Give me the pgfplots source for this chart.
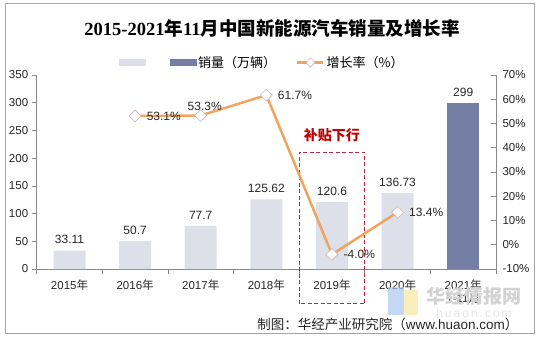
\documentclass[border=0pt]{standalone}
\usepackage{fontspec}
\setmainfont{Liberation Sans}
\newfontfamily\cjk{Noto Sans CJK SC}
\newfontfamily\serifb{Liberation Serif}
\usepackage{pgfplots}
\pgfplotsset{compat=1.18}
\definecolor{barL}{RGB}{221,224,233}
\definecolor{barD}{RGB}{117,127,166}
\definecolor{lineO}{RGB}{240,164,96}
\definecolor{mkE}{RGB}{214,176,186}
\definecolor{axG}{RGB}{137,137,137}
\definecolor{annR}{RGB}{192,0,0}
\definecolor{boxR}{RGB}{185,40,60}
\definecolor{logoB}{RGB}{168,200,240}
\definecolor{logoY}{RGB}{248,232,160}
\begin{document}
\begin{tikzpicture}
\path (-36.7pt,-71pt) rectangle (503.3pt,269pt);
\draw[color=gray!70, line width=0.8pt] (-31.7pt,-64pt) rectangle (497.3pt,265.3pt);
\begin{axis}[
  at={(0pt,0pt)}, anchor=south west,
  scale only axis, width=459.3pt, height=194pt,
  xmin=-0.5, xmax=6.5, ymin=0, ymax=350,
  ytick={0,50,...,350},
  xtick={-0.5,0.5,...,6.5},
  x tick label as interval,
  xticklabels={2015{\cjk 年},2016{\cjk 年},2017{\cjk 年},2018{\cjk 年},2019{\cjk 年},2020{\cjk 年},2021{\cjk 年}\\1-11{\cjk 月}},
  xticklabel style={align=center, font=\fontsize{11.5}{13}\selectfont, text=black!85, yshift=-2pt},
  yticklabel style={font=\fontsize{11.5}{13}\selectfont, text=black!85},
  axis x line*=bottom, axis y line*=left,
  axis line style={draw=axG, -}, tick style={draw=axG, line width=0.6pt},
  tick align=outside, major tick length=5pt,
  /pgf/number format/assume math mode=true,
  clip=false,
  ybar, bar width=32pt,
  legend columns=2,
  legend style={at={(0.4916,1.064)}, anchor=center, draw=none, fill=none,
    font=\cjk\fontsize{13}{14}\selectfont,
    /tikz/every even column/.append style={column sep=18pt}},
  nodes near coords,
  every node near coord/.append style={font=\fontsize{12}{13}\selectfont, text=black!85, yshift=3pt},
]
\addplot[fill=barL, draw=none, bar shift=0pt, forget plot] coordinates {(0,33.11) (1,50.7) (2,77.7) (3,125.62) (4,120.6) (5,136.73)};
\addplot[fill=barD, draw=none, bar shift=0pt, forget plot] coordinates {(6,299)};
\addlegendimage{legend image code/.code={
   \fill[barL] (0pt,-3pt) rectangle (26pt,3pt);
   \fill[barD] (50.5pt,-3pt) rectangle (76.6pt,3pt);}}
\addlegendentry{销量（万辆）}
\addlegendimage{legend image code/.code={
   \draw[lineO, line width=2.5pt] (0pt,0pt) -- (26pt,0pt);
   \draw[mkE, fill=white, line width=0.6pt, rotate around={45:(13pt,0pt)}] (9.8pt,-3.2pt) rectangle (16.2pt,3.2pt);}}
\addlegendentry{增长率（\%）}
\draw[boxR, dashed, dash pattern=on 4pt off 2.5pt, line width=0.9pt] (axis cs:3.5,-63) rectangle (axis cs:4.5,211);
\node[text=annR, font=\cjk\bfseries\fontsize{14}{15}\selectfont] at (axis cs:4,241.8) {补贴下行};
\end{axis}
\begin{axis}[
  at={(0pt,0pt)}, anchor=south west,
  scale only axis, width=459.3pt, height=194pt,
  xmin=-0.5, xmax=6.5, ymin=-10, ymax=70,
  ytick={-10,0,...,70},
  yticklabel={\pgfmathprintnumber{\tick}\%},
  yticklabel style={font=\fontsize{11.5}{13}\selectfont, text=black!85, xshift=3pt},
  axis y line*=right, axis x line=none,
  axis line style={draw=axG, -}, tick style={draw=axG, line width=0.6pt},
  ytick align=inside, major tick length=5pt,
  /pgf/number format/assume math mode=true,
  clip=false,
]
\addplot[draw=lineO, line width=2.5pt, mark=square*, mark size=4.2pt,
  mark options={rotate=45, fill=white, draw=mkE, line width=0.6pt},
  point meta=explicit symbolic, nodes near coords,
  every node near coord/.append style={anchor=west, xshift=8pt, font=\fontsize{12}{13}\selectfont, text=black!85}]
  coordinates {(1,53.1)[53.1\%] (2,53.3)[] (3,61.7)[61.7\%] (4,-4.0)[-4.0\%] (5,13.4)[13.4\%]};
\addplot[draw=none, mark=none, point meta=explicit symbolic, nodes near coords,
  every node near coord/.append style={anchor=south, xshift=4pt, yshift=1pt, font=\fontsize{12}{13}\selectfont, text=black!85}]
  coordinates {(2,53.3)[53.3\%]};
\end{axis}
\node[font=\fontsize{18.5}{20}\selectfont] at (235.3pt,241pt) {{\serifb\bfseries 2015-2021}{\cjk\bfseries 年}{\serifb\bfseries 11}{\cjk\bfseries 月中国新能源汽车销量及增长率}};
\fill[logoB, opacity=0.7] (351.3pt,-18pt) rectangle (366.9pt,-46pt);
\fill[logoY, opacity=0.7] (366.9pt,-21pt) rectangle (381.3pt,-46pt);
\node[text=gray!35, font=\cjk\bfseries\fontsize{19}{20}\selectfont] at (437.3pt,-27pt) {华经情报网};
\node[text=gray!20, font=\fontsize{12}{13}\selectfont] at (437.3pt,-44pt) {h\,u\,a\,o\,n\,.\,c\,o\,m};
\node[anchor=east, font=\fontsize{13.5}{14}\selectfont, text=black!85] at (485.3pt,-55pt) {{\cjk 制图：华经产业研究院（}www.huaon.com{\cjk ）}};
\end{tikzpicture}
\end{document}
